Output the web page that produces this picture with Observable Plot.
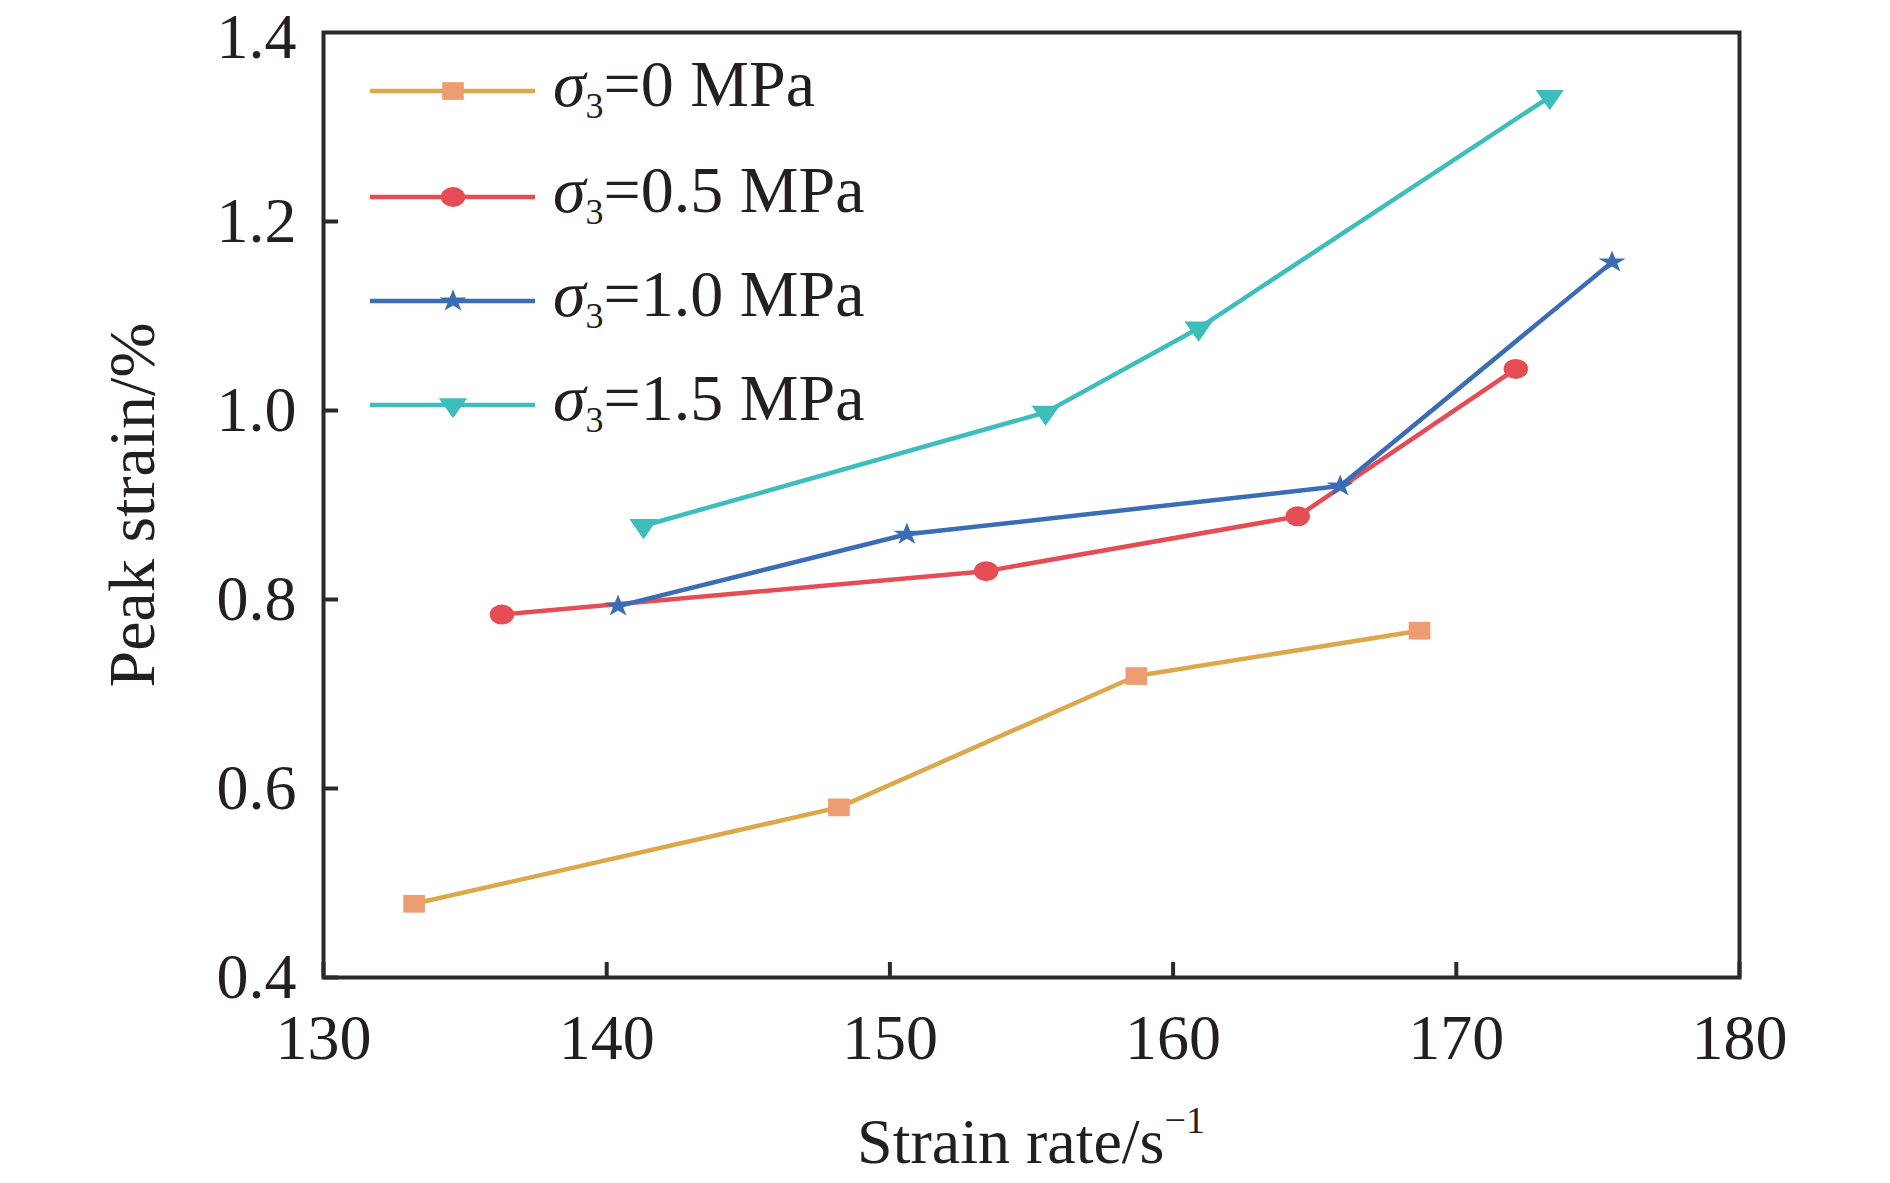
<!DOCTYPE html>
<html>
<head>
<meta charset="utf-8">
<script src="https://cdn.jsdelivr.net/npm/d3@7"></script>
<script src="https://cdn.jsdelivr.net/npm/@observablehq/plot@0.6"></script>
<style>
  html, body { margin: 0; padding: 0; background: #fff; }
  #chart svg { display: block; }
</style>
</head>
<body>
<div id="chart"></div>
<script>
// ---- data ----
const seriesLabels = ["0", "0.5", "1.0", "1.5"];           // σ3 in MPa
const rate0  = [133.2, 148.2, 158.7, 168.7];
const peak0  = [0.478, 0.580, 0.719, 0.767];
const rate05 = [136.3, 153.4, 164.4, 172.1];
const peak05 = [0.784, 0.830, 0.888, 1.044];
const rate10 = [140.4, 150.6, 165.9, 175.5];
const peak10 = [0.793, 0.869, 0.920, 1.157];
const rate15 = [141.3, 155.5, 160.9, 173.3];
const peak15 = [0.878, 0.998, 1.087, 1.332];
const xTicks = [130, 140, 150, 160, 170, 180];
const yTicks = [0.4, 0.6, 0.8, 1.0, 1.2, 1.4];

// ---- styles ----
const lineColors   = ["#DBA84B", "#E54C54", "#3A6DB5", "#3DBDBB"];
const markerColors = ["#EE9D72", "#E54C54", "#3A6DB5", "#3DBDBB"];
const symbols      = ["square", "circle", "star", "triangle"];
const d3Symbols    = [d3.symbolSquare, d3.symbolCircle, d3.symbolStar, d3.symbolTriangle];
const radii        = [10, 10, 7, 8.6];
const flipY        = [false, false, false, true];  // triangle pointing down
const stretchX     = 1.22;
const ink = "#231f20";
const font = "Liberation Serif, 'Times New Roman', serif";

const rates = [rate0, rate05, rate10, rate15];
const peaks = [peak0, peak05, peak10, peak15];
const rows = rates.map((xs, i) => xs.map((x, j) => ({series: i, x, y: peaks[i][j]})));

const marks = [];
rows.forEach((r, i) => {
  marks.push(Plot.line(r, {x: "x", y: "y", stroke: lineColors[i], strokeWidth: 4.5}));
});
rows.forEach((r, i) => {
  marks.push(Plot.dot(r, {x: "x", y: "y", symbol: symbols[i], r: radii[i], fill: markerColors[i], stroke: "none"}));
});

const yTop = yTicks[yTicks.length - 1];

const plot = Plot.plot({
  width: 1890,
  height: 1183,
  marginLeft: 323,
  marginRight: 151,
  marginTop: 32,
  marginBottom: 206,
  style: {fontFamily: font, color: ink, background: "white", overflow: "visible"},
  x: {domain: [130, 180]},
  y: {domain: [0.4, 1.4]},
  marks: [
    ...marks,
    Plot.axisX(xTicks, {tickSize: -15, tickPadding: 51, fontSize: 64, tickFormat: d => String(d),
      label: null, stroke: "#2a2a2a", strokeWidth: 4, fill: ink}),
    Plot.axisY(yTicks.filter(v => v !== yTop), {tickSize: -15, tickPadding: 42, fontSize: 64, tickFormat: d3.format(".1f"),
      label: null, stroke: "#2a2a2a", strokeWidth: 4, fill: ink}),
    Plot.axisY([yTop], {tickSize: 0, tickPadding: 27, fontSize: 64, tickFormat: d3.format(".1f"),
      label: null, stroke: "none", fill: ink, dy: 5}),
    Plot.frame({stroke: "#2a2a2a", strokeWidth: 4})
  ]
});

document.getElementById("chart").appendChild(plot);

const svg = d3.select(plot);

// stretch markers horizontally like in the reference, flip the triangle
svg.selectAll('g[aria-label="dot"]').each(function(_, i) {
  const sy = flipY[i] ? -1 : 1;
  d3.select(this).selectAll("path").each(function() {
    const el = d3.select(this);
    el.attr("transform", (el.attr("transform") || "") + ` scale(${stretchX},${sy})`);
  });
  d3.select(this).selectAll("circle").each(function() {
    const el = d3.select(this);
    const cx = +el.attr("cx") || 0, cy = +el.attr("cy") || 0;
    el.attr("transform", `translate(${cx},${cy}) scale(${stretchX},${sy}) translate(${-cx},${-cy})`);
  });
});

// legend
const legendY = [91, 197, 301, 405];
const leg = svg.append("g").attr("font-family", font).attr("fill", ink).attr("text-anchor", "start");
seriesLabels.forEach((lab, i) => {
  const y = legendY[i];
  leg.append("line").attr("x1", 370).attr("x2", 535).attr("y1", y).attr("y2", y)
    .attr("stroke", lineColors[i]).attr("stroke-width", 4.5);
  leg.append("path").attr("d", d3.symbol(d3Symbols[i], Math.PI * radii[i] * radii[i])())
    .attr("transform", `translate(453,${y}) scale(${stretchX},${flipY[i] ? -1 : 1})`)
    .attr("fill", markerColors[i]);
  const t = leg.append("text").attr("x", 553).attr("y", y + 15).attr("font-size", 66);
  t.append("tspan").attr("font-style", "italic").text("σ");
  t.append("tspan").attr("font-size", 36).attr("dy", 12).text("3");
  t.append("tspan").attr("dy", -12).text("=" + lab + " MPa");
});

// axis titles
const xt = svg.append("text").attr("x", 1031).attr("y", 1163).attr("text-anchor", "middle")
  .attr("font-family", font).attr("font-size", 64).attr("fill", ink);
xt.append("tspan").text("Strain rate/s");
xt.append("tspan").attr("font-size", 38).attr("dy", -30).text("−1");

svg.append("text").attr("transform", "translate(154,505) rotate(-90)").attr("text-anchor", "middle")
  .attr("font-family", font).attr("font-size", 66).attr("fill", ink).text("Peak strain/%");
</script>
</body>
</html>
